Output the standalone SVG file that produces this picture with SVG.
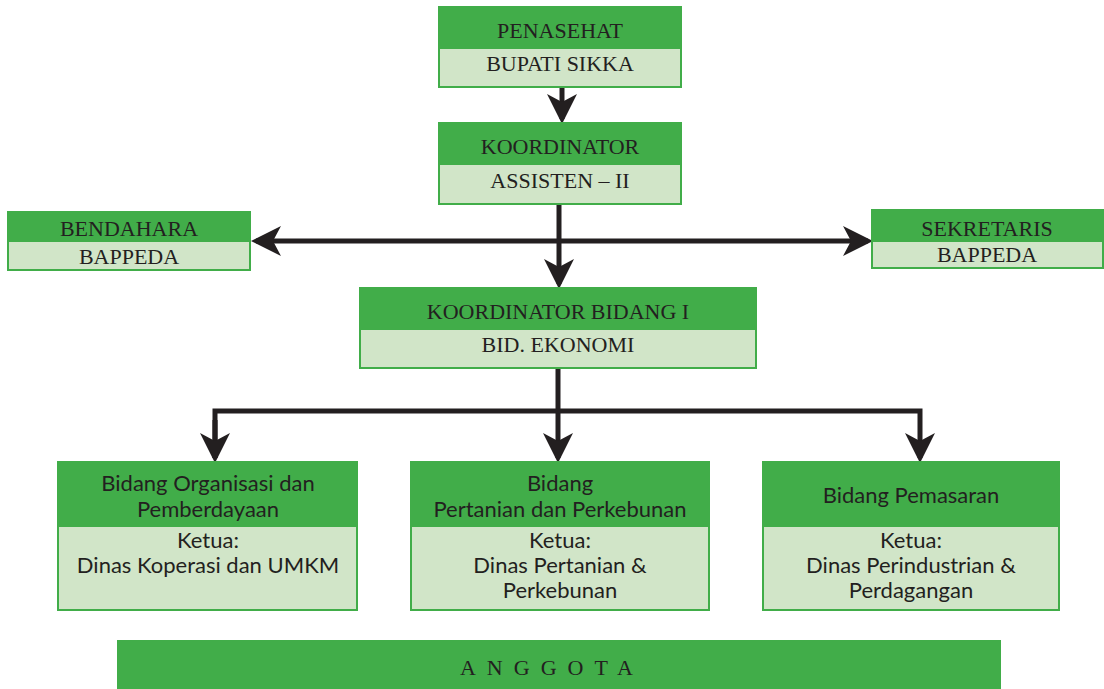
<svg xmlns="http://www.w3.org/2000/svg" width="1104" height="689" viewBox="0 0 1104 689">
<style>
.g{fill:#41ad49}
.l{fill:#d1e5c8}
.t{font-family:"Liberation Serif",serif;font-size:22px;fill:#231f20;text-anchor:middle}
.s{font-family:Lato,"Open Sans",sans-serif;font-size:22px;fill:#231f20;text-anchor:middle}
.c{stroke:#231f20;stroke-width:5;fill:none}
</style>
<defs>
<marker id="ah" markerWidth="6" markerHeight="6" refX="5" refY="3" orient="auto" markerUnits="strokeWidth" viewBox="0 0 6 6">
<path d="M0,0 L6,3 L0,6 L1.6,3 Z" fill="#231f20"/>
</marker>
</defs>
<rect width="1104" height="689" fill="#fff"/>
<g id="connectors">
<line class="c" x1="562" y1="88" x2="562" y2="119" marker-end="url(#ah)"/>
<line class="c" x1="559" y1="205" x2="559" y2="284" marker-end="url(#ah)"/>
<line class="c" x1="559" y1="241" x2="256" y2="241" marker-end="url(#ah)"/>
<line class="c" x1="559" y1="241" x2="868" y2="241" marker-end="url(#ah)"/>
<line class="c" x1="558" y1="369" x2="558" y2="458" marker-end="url(#ah)"/>
<polyline class="c" points="215,458 215,411 920,411 920,458" marker-end="url(#ah)"/>
<line class="c" x1="215" y1="420" x2="215" y2="458" marker-end="url(#ah)"/>
</g>
<g id="penasehat">
<rect class="g" x="438" y="6" width="244" height="82"/>
<rect class="l" x="440" y="49" width="240" height="37"/>
<text class="t" x="560" y="38">PENASEHAT</text>
<text class="t" x="560" y="71">BUPATI SIKKA</text>
</g>
<g id="koordinator">
<rect class="g" x="438" y="122" width="244" height="83"/>
<rect class="l" x="440" y="165" width="240" height="38"/>
<text class="t" x="560" y="154">KOORDINATOR</text>
<text class="t" x="560" y="188">ASSISTEN – II</text>
</g>
<g id="bendahara">
<rect class="g" x="7" y="211" width="244" height="60"/>
<rect class="l" x="9" y="242" width="240" height="27"/>
<text class="t" x="129" y="236">BENDAHARA</text>
<text class="t" x="129" y="264">BAPPEDA</text>
</g>
<g id="sekretaris">
<rect class="g" x="871" y="209" width="233" height="60"/>
<rect class="l" x="873" y="242" width="229" height="25"/>
<text class="t" x="987" y="236">SEKRETARIS</text>
<text class="t" x="987" y="262">BAPPEDA</text>
</g>
<g id="koordinator-bidang">
<rect class="g" x="359" y="287" width="398" height="82"/>
<rect class="l" x="361" y="330" width="394" height="37"/>
<text class="t" x="558" y="319">KOORDINATOR BIDANG I</text>
<text class="t" x="558" y="352">BID. EKONOMI</text>
</g>
<g id="bidang-organisasi">
<rect class="g" x="57" y="461" width="301" height="150"/>
<rect class="l" x="59" y="527" width="297" height="82"/>
<text class="s" x="208" y="491">Bidang Organisasi dan</text>
<text class="s" x="208" y="517">Pemberdayaan</text>
<text class="s" x="208" y="548">Ketua:</text>
<text class="s" x="208" y="573">Dinas Koperasi dan UMKM</text>
</g>
<g id="bidang-pertanian">
<rect class="g" x="410" y="461" width="300" height="150"/>
<rect class="l" x="412" y="527" width="296" height="82"/>
<text class="s" x="560" y="491">Bidang</text>
<text class="s" x="560" y="517">Pertanian dan Perkebunan</text>
<text class="s" x="560" y="548">Ketua:</text>
<text class="s" x="560" y="573">Dinas Pertanian &amp;</text>
<text class="s" x="560" y="598">Perkebunan</text>
</g>
<g id="bidang-pemasaran">
<rect class="g" x="762" y="461" width="298" height="150"/>
<rect class="l" x="764" y="527" width="294" height="82"/>
<text class="s" x="911" y="503">Bidang Pemasaran</text>
<text class="s" x="911" y="548">Ketua:</text>
<text class="s" x="911" y="573">Dinas Perindustrian &amp;</text>
<text class="s" x="911" y="598">Perdagangan</text>
</g>
<g id="anggota">
<rect class="g" x="117" y="640" width="884" height="49"/>
<text x="552" y="675" style="font-family:'Liberation Serif',serif;font-size:22px;fill:#231f20;text-anchor:middle;letter-spacing:11px">ANGGOTA</text>
</g>
</svg>
